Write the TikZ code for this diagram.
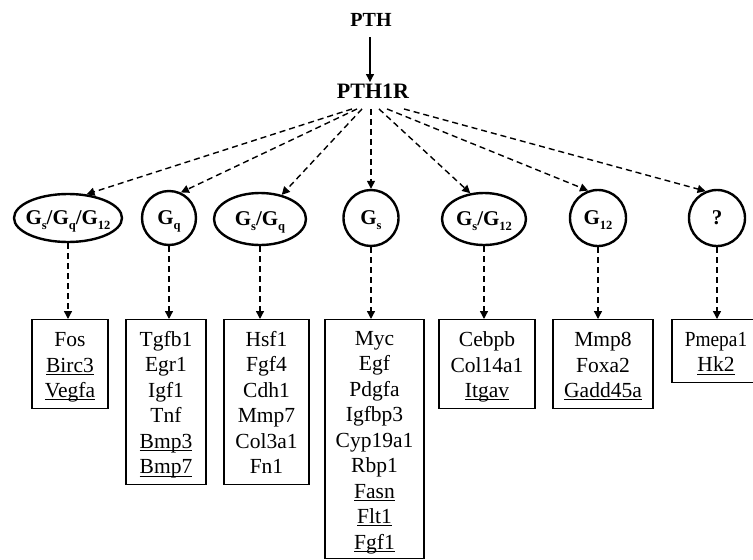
\documentclass[tikz,border=0pt]{standalone}
\usepackage{fontspec}
\setmainfont{Liberation Serif}
\usetikzlibrary{arrows.meta,shapes.geometric,calc}
\newcommand\Gx[1]{G\raisebox{-4.5pt}[0pt][0pt]{\fontsize{12.5}{12.5}\selectfont #1}}
\newsavebox\ulbox
\newcommand\undl[1]{\sbox\ulbox{#1}\rlap{\rule[-2.8pt]{\wd\ulbox}{1.1pt}}\usebox\ulbox}
\newcommand\topst{\rule{0pt}{22pt}}
\newcommand\botst{\rule[-6pt]{0pt}{0pt}}
\begin{document}
\begin{tikzpicture}[x=1pt,y=-1pt,
  lbl/.style={font=\fontsize{20}{24}\selectfont\bfseries, inner sep=0pt},
  gprot/.style={draw, ellipse, line width=2.4pt, inner sep=0pt, font=\fontsize{21}{24}\selectfont\bfseries},
  genebox/.style={draw, line width=1.3pt, anchor=north, align=center, inner sep=0pt, font=\fontsize{21.5}{25.5}\selectfont},
  darr/.style={line width=1.4pt, dash pattern=on 6pt off 4pt, -{Triangle[length=8pt,width=8pt]}},
  sarr/.style={line width=1.2pt, -{Triangle[length=8pt,width=8pt]}}]
\useasboundingbox (0,0) rectangle (753,560);

\node[lbl] (pth) at (371,20) {PTH};
\node[lbl, font=\fontsize{22}{24}\selectfont\bfseries] (pth1r) at (373,91.5) {PTH1R};
\draw[sarr] ($(pth.south)+(-1,10.5)$) -- ($(pth1r.north)+(-3,-2)$);

\node[gprot, minimum width=108pt, minimum height=48pt] (g1) at (68,218) {\makebox[0pt]{\Gx{s}/\Gx{q}/\Gx{12}}};
\node[gprot, minimum width=54pt, minimum height=54pt] (g2) at (169,218) {\makebox[0pt]{\Gx{q}}};
\node[gprot, minimum width=92pt, minimum height=52pt] (g3) at (260,219) {\makebox[0pt]{\Gx{s}/\Gx{q}}};
\node[gprot, minimum width=55pt, minimum height=56pt] (g4) at (371,218) {\makebox[0pt]{\Gx{s}}};
\node[gprot, minimum width=84pt, minimum height=52pt] (g5) at (484,219) {\makebox[0pt]{\Gx{s}/\Gx{12}}};
\node[gprot, minimum width=56pt, minimum height=56pt] (g6) at (598,218) {\makebox[0pt]{\Gx{12}}};
\node[gprot, minimum width=56pt, minimum height=56pt] (g7) at (717,218) {\makebox[0pt]{?}};

\draw[darr] ($(pth1r.south)+(-21,10)$) -- (g1.52);
\draw[darr] ($(pth1r.south)+(-16,10)$) -- (g2.65);
\draw[darr] ($(pth1r.south)+(-11,10)$) -- (g3.48);
\draw[darr] ($(pth1r.south)+(-2,10)$) -- (g4.north);
\draw[darr] ($(pth1r.south)+(6,10)$) -- (g5.118);
\draw[darr] ($(pth1r.south)+(14,10)$) -- (g6.110);
\draw[darr] ($(pth1r.south)+(31,10)$) -- (g7.113);

\node[genebox, minimum width=76pt, minimum height=89pt] (b1) at (70,319)
  {\topst Fos\\\undl{Birc3}\\\undl{Vegfa}\botst};
\node[genebox, minimum width=80pt, minimum height=165pt] (b2) at (166,319)
  {\topst Tgfb1\\Egr1\\Igf1\\Tnf\\\undl{Bmp3}\\\undl{Bmp7}\botst};
\node[genebox, minimum width=85pt, minimum height=165pt] (b3) at (266.5,319)
  {\topst Hsf1\\Fgf4\\Cdh1\\Mmp7\\Col3a1\\Fn1\botst};
\node[genebox, minimum width=99pt, minimum height=239pt] (b4) at (374.5,319)
  {\topst Myc\\Egf\\Pdgfa\\Igfbp3\\Cyp19a1\\Rbp1\\\undl{Fasn}\\\undl{Flt1}\\\undl{Fgf1}\botst};
\node[genebox, minimum width=96pt, minimum height=89pt] (b5) at (487,319)
  {\topst Cebpb\\Col14a1\\\undl{Itgav}\botst};
\node[genebox, minimum width=100pt, minimum height=89pt] (b6) at (603,319)
  {\topst Mmp8\\Foxa2\\\undl{Gadd45a}\botst};
\node[genebox, minimum width=88pt, minimum height=63pt] (b7) at (716,319)
  {\topst\scalebox{0.9}[1]{Pmepa1}\\\undl{Hk2}\botst};

\draw[darr] (g1.south) -- (g1.south |- b1.north);
\draw[darr] (g2.south) -- (g2.south |- b2.north);
\draw[darr] (g3.south) -- (g3.south |- b3.north);
\draw[darr] (g4.south) -- (g4.south |- b4.north);
\draw[darr] (g5.south) -- (g5.south |- b5.north);
\draw[darr] (g6.south) -- (g6.south |- b6.north);
\draw[darr] (g7.south) -- (g7.south |- b7.north);
\end{tikzpicture}
\end{document}
